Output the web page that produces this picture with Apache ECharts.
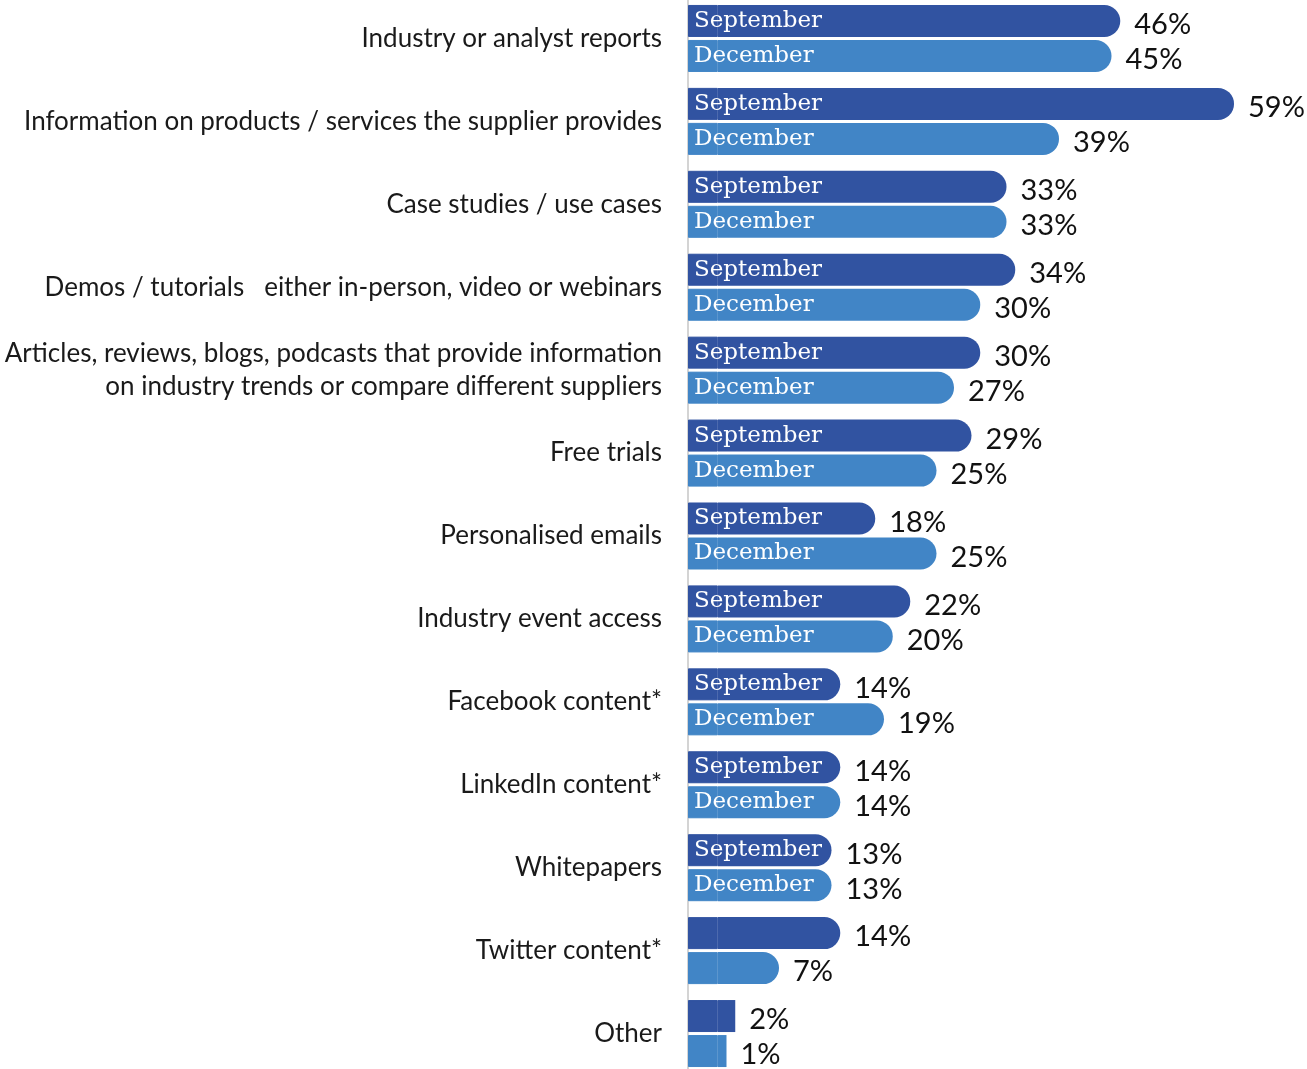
<!DOCTYPE html>
<html>
<head>
<meta charset="utf-8">
<script src="https://cdn.jsdelivr.net/npm/echarts@6/dist/echarts.min.js"></script>
<style>
html,body{margin:0;padding:0;background:#fff;overflow:hidden;}
#chart{width:1307px;height:1078px;margin-top:-3px;}
</style>
</head>
<body>
<div id="chart"></div>
<script>
const categories = [
  "Industry or analyst reports",
  "Information on products / services the supplier provides",
  "Case studies / use cases",
  "Demos / tutorials   either in-person, video or webinars",
  "Articles, reviews, blogs, podcasts that provide information\non industry trends or compare different suppliers",
  "Free trials",
  "Personalised emails",
  "Industry event access",
  "Facebook content*",
  "LinkedIn content*",
  "Whitepapers",
  "Twitter content*",
  "Other"
];
const september = [46, 59, 33, 34, 30, 29, 18, 22, 14, 14, 13, 14, 2];
const december  = [45, 39, 33, 30, 27, 25, 25, 20, 19, 14, 13, 7, 1];
const seriesNames = ["September", "December"];
const showInBarName = [true, true, true, true, true, true, true, true, true, true, true, false, false];
const roundedEnd = [true, true, true, true, true, true, true, true, true, true, true, true, false];

const OFFSET = 3.4; // visual lead-in of every bar (bars start before the value zero)
const COLORS = ["#3153a1", "#4185c6"];

function baseSeries(idx) {
  return {
    name: seriesNames[idx] + " base",
    type: "bar",
    stack: "s" + idx,
    barWidth: 32,
    barGap: "9.4%",
    z: 3,
    silent: true,
    itemStyle: { color: COLORS[idx], borderColor: COLORS[idx], borderWidth: 1 },
    data: categories.map((c, i) => ({
      value: -OFFSET,
      label: { show: showInBarName[i] }
    })),
    label: {
      show: true,
      position: "insideLeft",
      distance: 6,
      formatter: seriesNames[idx],
      color: "#ffffff",
      fontFamily: "DejaVu Serif",
      fontSize: 23,
      offset: [0, 0]
    }
  };
}
function valueSeries(idx, vals) {
  return {
    name: seriesNames[idx],
    type: "bar",
    stack: "s" + idx,
    barWidth: 32,
    barGap: "9.4%",
    z: 2,
    itemStyle: { color: COLORS[idx] },
    data: vals.map((v, i) => ({
      value: v,
      itemStyle: { borderRadius: roundedEnd[i] ? [0, 16, 16, 0] : 0 }
    })),
    label: {
      show: true,
      position: "right",
      distance: 14,
      offset: [0, 4],
      formatter: "{c}%",
      color: "#111",
      fontFamily: "Lato",
      fontSize: 29
    }
  };
}

const chart = echarts.init(document.getElementById("chart"), null, { renderer: "canvas" });
chart.setOption({
  animation: false,
  backgroundColor: "#ffffff",
  grid: { left: 688, right: 20.5, top: 0, bottom: 0, containLabel: false },
  xAxis: {
    type: "value",
    min: -OFFSET,
    max: 65,
    show: false,
    splitLine: { show: false }
  },
  yAxis: {
    type: "category",
    inverse: true,
    data: categories,
    axisTick: { show: false },
    axisLine: { show: true, onZero: false, lineStyle: { color: "#d4d4d4", width: 2 } },
    axisLabel: {
      margin: 26,
      color: "#1a1a1a",
      fontFamily: "Lato",
      fontSize: 26,
      lineHeight: 33,
      align: "right"
    }
  },
  series: [
    baseSeries(0),
    valueSeries(0, september),
    baseSeries(1),
    valueSeries(1, december)
  ]
});
</script>
</body>
</html>
